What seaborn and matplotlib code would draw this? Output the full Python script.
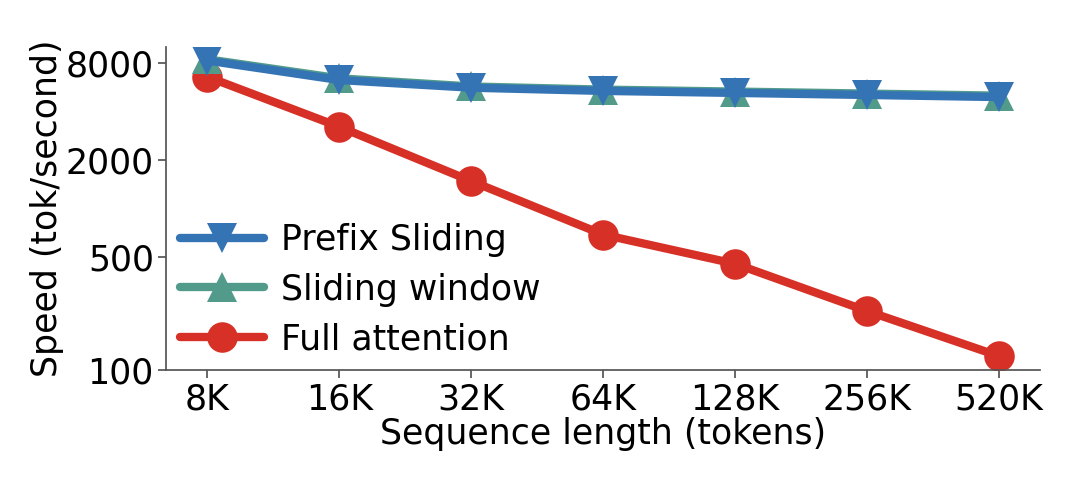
import matplotlib
matplotlib.use("Agg")
import matplotlib.pyplot as plt
import matplotlib.ticker as mticker
import seaborn as sns
import pandas as pd

# --- data ---
seq_labels = ["8K", "16K", "32K", "64K", "128K", "256K", "520K"]
prefix_sliding = [8250, 6250, 5600, 5350, 5200, 5050, 4900]
sliding_window = [8400, 6400, 5700, 5450, 5300, 5150, 5000]
full_attention = [6550, 3210, 1480, 690, 455, 232, 122]
y_ticks = [100, 500, 2000, 8000]

sns.set_theme(style="ticks")
plt.rcParams.update({
    "font.family": ["DejaVu Sans"],
    "font.size": 25,
    "text.color": "black",
    "axes.labelcolor": "black",
    "axes.edgecolor": "#555555",
    "xtick.color": "#555555",
    "ytick.color": "#555555",
    "xtick.labelcolor": "black",
    "ytick.labelcolor": "black",
})

df = pd.DataFrame({
    "x": list(range(len(seq_labels))) * 3,
    "speed": prefix_sliding + sliding_window + full_attention,
    "method": ["Prefix Sliding"] * 7 + ["Sliding window"] * 7 + ["Full attention"] * 7,
})

colors = {"Prefix Sliding": "#3574B4", "Sliding window": "#529B8B", "Full attention": "#D73127"}
markers = {"Prefix Sliding": "v", "Sliding window": "^", "Full attention": "o"}

fig = plt.figure(figsize=(10.8, 4.8), dpi=100)
ax = fig.add_axes([0.154, 0.229, 0.809, 0.673])

for name in ["Full attention", "Sliding window", "Prefix Sliding"]:
    sub = df[df["method"] == name]
    sns.lineplot(data=sub, x="x", y="speed", ax=ax, color=colors[name],
                 marker=markers[name], markersize=22, markeredgewidth=0,
                 linewidth=6, label=name)

ax.set_yscale("log")
ax.set_ylim(100, 10000)
ax.set_xlim(-0.31, 6.31)
ax.yaxis.set_major_locator(mticker.FixedLocator(y_ticks))
ax.yaxis.set_major_formatter(mticker.FixedFormatter([str(t) for t in y_ticks]))
ax.yaxis.set_minor_locator(mticker.NullLocator())
ax.set_xticks(range(len(seq_labels)))
ax.set_xticklabels(seq_labels)
ax.tick_params(labelsize=25, pad=3)
ax.set_xlabel("Sequence length (tokens)", fontsize=25, labelpad=0)
ax.set_ylabel("Speed (tok/second)", fontsize=25, labelpad=1)
sns.despine(ax=ax)

handles, labels = ax.get_legend_handles_labels()
order = [labels.index(n) for n in ["Prefix Sliding", "Sliding window", "Full attention"]]
ax.legend([handles[i] for i in order], [labels[i] for i in order],
          loc="lower left", frameon=False, fontsize=25, handlelength=2.4,
          handletextpad=0.5, labelspacing=0.45, borderaxespad=0.0,
          bbox_to_anchor=(0.0, 0.0))

fig.savefig("out.png", dpi=100)
